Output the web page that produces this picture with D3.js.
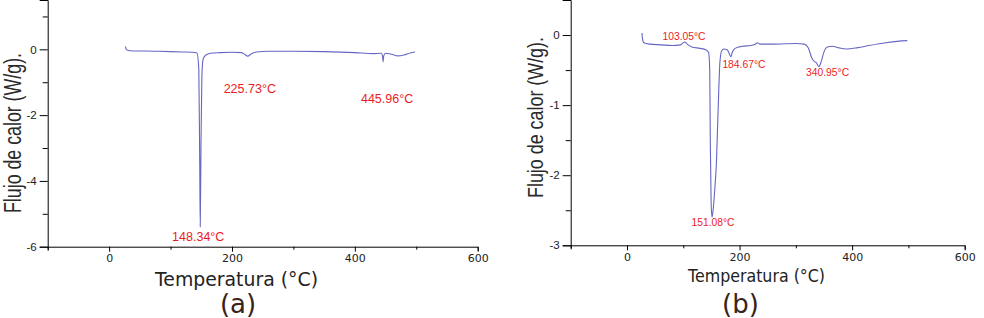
<!DOCTYPE html>
<html>
<head>
<meta charset="utf-8">
<script src="https://cdn.jsdelivr.net/npm/d3@7"></script>
<style>
  body { margin: 0; background: #fff; }
  svg { display: block; }
  .tick text { font-family: "DejaVu Sans", sans-serif; font-size: 11px; fill: #222; }
  .yax .tick text { font-family: "Liberation Sans", Arial, sans-serif; font-size: 11.5px; }
  .domain, .tick line { stroke: #000; }
</style>
</head>
<body>
<div id="chart"></div>
<script>
// panel (a): temperature (°C) and heat flow (W/g)
var tempA = [26.5, 27.5, 30, 40, 60, 80, 100, 120, 135, 143, 146, 147.5, 148.34, 149.5, 151, 153, 157, 165, 180, 200, 215, 220, 225.73, 231, 240, 260, 300, 350, 400, 430, 443, 445, 445.96, 447, 450, 460, 470, 480, 490, 498];
var flowA = [0.09, 0.02, -0.03, -0.05, -0.05, -0.06, -0.07, -0.08, -0.09, -0.11, -0.6, -3.5, -5.39, -3.0, -0.8, -0.3, -0.18, -0.12, -0.1, -0.09, -0.1, -0.14, -0.21, -0.14, -0.08, -0.06, -0.06, -0.07, -0.1, -0.13, -0.12, -0.2, -0.38, -0.2, -0.12, -0.15, -0.2, -0.17, -0.11, -0.08];
var peaksA = [148.34, 225.73, 445.96];

// panel (b)
var tempB = [26.6, 27.5, 30, 40, 60, 80, 95, 100, 103.05, 107, 115, 130, 140, 145, 147, 148, 149.5, 151.08, 153, 156, 159, 161, 163, 165, 168, 172, 178, 182, 184.67, 187, 192, 205, 220, 228, 232, 236, 260, 300, 315, 322, 328, 333, 336, 340.95, 345, 350, 356, 365, 375, 390, 410, 430, 460, 480, 498];
var flowB = [0.03, -0.05, -0.11, -0.13, -0.14, -0.15, -0.14, -0.11, -0.1, -0.13, -0.17, -0.19, -0.21, -0.25, -0.5, -1.5, -2.4, -2.6, -2.5, -2.2, -1.8, -1.3, -0.8, -0.4, -0.23, -0.2, -0.21, -0.27, -0.31, -0.25, -0.19, -0.16, -0.15, -0.13, -0.11, -0.13, -0.13, -0.12, -0.13, -0.18, -0.32, -0.38, -0.39, -0.45, -0.38, -0.24, -0.17, -0.16, -0.18, -0.2, -0.18, -0.15, -0.11, -0.09, -0.08];
var peaksB = [103.05, 151.08, 184.67, 340.95];

var xTicks = [-100, 0, 100, 200, 300, 400, 500, 600];
var yTicksA = [-6, -5, -4, -3, -2, -1, 0, 1];
var yTicksB = [-3, -2.5, -2, -1.5, -1, -0.5, 0, 0.5];

var xLabel = "Temperatura (°C)",
    yLabel = "Flujo de calor (W/g).";

var svg = d3.select("#chart").append("svg")
    .attr("width", 984)
    .attr("height", 318);

var panels = [
  { temp: tempA, flow: flowA, peaks: peaksA, yTicks: yTicksA, yDom: [-6, 1.5],
    xr: [47.7, 477.7], yr: [246.7, 0], name: "(a)",
    labelOff: [[-2, 14], [2, 37], [4, 41]], labelSize: 12.5,
    ylab: {x: 20.5, y: 133, size: 23, len: 160},
    xlab: {x: 236.5, y: 286, size: 19, len: 163},
    tag: {x: 238, y: 312.5} },
  { temp: tempB, flow: flowB, peaks: peaksB, yTicks: yTicksB, yDom: [-3, 0.5],
    xr: [570.7, 964.7], yr: [245.3, 0], name: "(b)",
    labelOff: [[-1, -1.8], [1, 9.2], [13, 11.4], [8.7, 9]], labelSize: 10.3,
    ylab: {x: 542.5, y: 117.5, size: 21.5, len: 161},
    xlab: {x: 756.5, y: 282, size: 17.5, len: 137},
    tag: {x: 740.5, y: 312.5} }
];

panels.forEach(function(p) {
  var x = d3.scaleLinear().domain([-100, 600]).range(p.xr);
  var y = d3.scaleLinear().domain(p.yDom).range(p.yr);
  var pts = p.temp.map(function(t, i) { return [t, p.flow[i]]; });
  var isMajorY = function(d) { return p.yDom[0] === -6 ? d % 2 === 0 : Number.isInteger(d); };

  var line = d3.line()
      .curve(d3.curveMonotoneX)
      .x(function(d) { return x(d[0]); })
      .y(function(d) { return y(d[1]); });

  // x axis
  var gx = svg.append("g")
      .attr("transform", "translate(0," + p.yr[0] + ")")
      .call(d3.axisBottom(x).tickValues(xTicks).tickSizeOuter(0).tickSize(4).tickPadding(4)
        .tickFormat(function(d) { return d % 200 === 0 ? d : ""; }));
  gx.selectAll(".tick line").attr("y2", function(d) { return d % 200 === 0 ? 5 : 3; });

  // y axis
  var gy = svg.append("g")
      .attr("class", "yax")
      .attr("transform", "translate(" + p.xr[0] + ",0)")
      .call(d3.axisLeft(y).tickValues(p.yTicks).tickSizeOuter(0).tickSize(8).tickPadding(3)
        .tickFormat(function(d) { return isMajorY(d) ? d : ""; }));
  gy.selectAll(".tick line").attr("x2", function(d) { return isMajorY(d) ? -8 : -5; });
  gy.selectAll(".tick").filter(function(d) { return d > p.yDom[1] - 0.01; }).remove();
  gy.selectAll(".tick").filter(function(d) { return d === 1; }).select("text").remove();

  svg.append("path")
      .datum(pts)
      .attr("d", line)
      .attr("fill", "none")
      .attr("stroke", "#6666c4")
      .attr("stroke-width", 1.1);

  // peak labels
  p.peaks.forEach(function(t, i) {
    var v = p.flow[p.temp.indexOf(t)];
    svg.append("text")
        .attr("x", x(t) + p.labelOff[i][0])
        .attr("y", y(v) + p.labelOff[i][1])
        .attr("text-anchor", "middle")
        .style("font-family", "'Liberation Sans', Arial, sans-serif")
        .style("font-size", p.labelSize + "px")
        .style("fill", "#ec1c24")
        .text(t.toFixed(2) + "°C");
  });

  svg.append("text")
      .attr("transform", "translate(" + p.ylab.x + "," + p.ylab.y + ") rotate(-90)")
      .attr("text-anchor", "middle")
      .attr("textLength", p.ylab.len)
      .attr("lengthAdjust", "spacingAndGlyphs")
      .style("font-family", "'Liberation Sans Narrow', 'Liberation Sans', sans-serif")
      .style("font-size", p.ylab.size + "px")
      .style("fill", "#2a2a2a")
      .text(yLabel);

  svg.append("text")
      .attr("x", p.xlab.x)
      .attr("y", p.xlab.y)
      .attr("text-anchor", "middle")
      .attr("textLength", p.xlab.len)
      .attr("lengthAdjust", "spacingAndGlyphs")
      .style("font-family", "'DejaVu Sans', sans-serif")
      .style("font-size", p.xlab.size + "px")
      .style("fill", "#222")
      .text(xLabel);

  svg.append("text")
      .attr("x", p.tag.x)
      .attr("y", p.tag.y)
      .attr("text-anchor", "middle")
      .style("font-family", "'DejaVu Sans', sans-serif")
      .style("font-size", "26px")
      .style("fill", "#3a2418")
      .text(p.name);
});
</script>
</body>
</html>
